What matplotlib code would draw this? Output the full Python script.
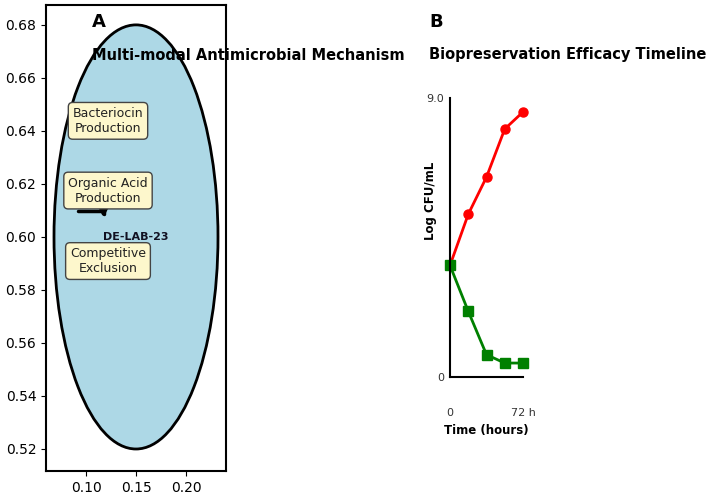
import matplotlib
matplotlib.use("Agg")
import matplotlib.pyplot as plt
from matplotlib.patches import Ellipse

# Panel A data
mech_labels = ["Bacteriocin\nProduction", "Organic Acid\nProduction", "Competitive\nExclusion"]
mech_x = [0.122, 0.122, 0.122]
mech_y = [0.6438, 0.6175, 0.5909]
strain_label = "DE-LAB-23"

# Panel B data
time_h = [0, 18, 36, 54, 72]
pathogen = [3.6, 5.25, 6.45, 8.0, 8.55]
treated = [3.6, 2.12, 0.72, 0.45, 0.45]

W, H = 709, 499
fig = plt.figure(figsize=(W / 100, H / 100), dpi=100)

def rect(x0, y0, x1, y1):
    return [x0 / W, 1 - y1 / H, (x1 - x0) / W, (y1 - y0) / H]

axA = fig.add_axes(rect(46, 5, 226, 471))
axA.set_xlim(0.06, 0.24)
axA.set_ylim(0.5117, 0.6875)
axA.add_patch(Ellipse((0.15, 0.60), 0.164, 0.16, facecolor="#add8e6",
                      edgecolor="black", lw=2, zorder=1))
axA.set_xticks([0.10, 0.15, 0.20])
axA.set_yticks([0.52, 0.54, 0.56, 0.58, 0.60, 0.62, 0.64, 0.66, 0.68])
axA.tick_params(labelsize=10)
for s in axA.spines.values():
    s.set_linewidth(1.5)

axA.annotate("", xy=(0.1175, 0.6072), xytext=(0.092, 0.6098),
             arrowprops=dict(arrowstyle="-|>,head_length=0.5,head_width=0.25",
                             color="black", lw=2.5, shrinkA=0, shrinkB=0,
                             connectionstyle="angle,angleA=0,angleB=90,rad=0"),
             zorder=2)
axA.text(0.150, 0.6000, strain_label, ha="center", va="center",
         fontsize=8, fontweight="bold", color="#111122", zorder=3)
for lab, x, y in zip(mech_labels, mech_x, mech_y):
    axA.text(x, y, lab, ha="center", va="center", fontsize=9, color="#222222",
             bbox=dict(boxstyle="round,pad=0.35", facecolor="#fdf7cc",
                       edgecolor="#444444", lw=1), zorder=4)

fig.text(92 / W, 1 - 22 / H, "A", fontsize=13, fontweight="bold", va="center", ha="left")
fig.text(92 / W, 1 - 55 / H, "Multi-modal Antimicrobial Mechanism", fontsize=10.5,
         fontweight="bold", va="center", ha="left")
fig.text(429 / W, 1 - 22 / H, "B", fontsize=13, fontweight="bold", va="center", ha="left")
fig.text(429 / W, 1 - 55 / H, "Biopreservation Efficacy Timeline", fontsize=10.5,
         fontweight="bold", va="center", ha="left")

axB = fig.add_axes(rect(450, 98, 523, 377))
axB.plot(time_h, pathogen, color="red", marker="o", markersize=6.5, lw=2, clip_on=False)
axB.plot(time_h, treated, color="green", marker="s", markersize=6.5, lw=2, clip_on=False)
axB.set_xlim(0, 72)
axB.set_ylim(0, 9)
axB.set_xticks([0, 72])
axB.set_xticklabels(["0", "72 h"])
axB.set_yticks([0, 9])
axB.set_yticklabels(["0", "9.0"])
axB.spines["top"].set_visible(False)
axB.spines["right"].set_visible(False)
axB.spines["left"].set_linewidth(1.5)
axB.spines["bottom"].set_linewidth(1.5)
axB.tick_params(length=0, labelsize=8, labelcolor="#333333")
axB.tick_params(axis="x", pad=22)
axB.tick_params(axis="y", pad=4)
axB.set_ylabel("Log CFU/mL", fontsize=8.5, fontweight="bold")
axB.yaxis.set_label_coords(-0.178, 0.63)
axB.set_xlabel("Time (hours)", fontsize=8.5, fontweight="bold")
axB.xaxis.set_label_coords(0.5, -0.17)

fig.savefig("out.png", dpi=100)
